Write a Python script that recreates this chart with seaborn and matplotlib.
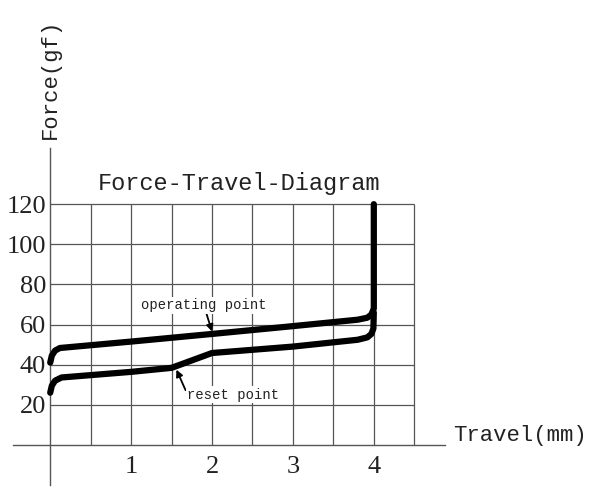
import numpy as np
import pandas as pd
import matplotlib.pyplot as plt
import seaborn as sns

# Curve data (travel in mm, force in gf)
operating_travel = [0.0, 0.02, 0.06, 0.12, 1.0, 2.0, 3.0, 3.8, 3.92, 3.97, 4.0, 4.0]
operating_force = [41.0, 44.5, 47.0, 48.3, 51.5, 55.3, 59.2, 62.4, 63.4, 65.0, 68.0, 120.0]

reset_travel = [0.0, 0.02, 0.06, 0.14, 1.0, 1.5, 2.0, 3.0, 3.8, 3.92, 3.97, 3.995, 4.0]
reset_force = [26.0, 29.5, 32.0, 33.6, 36.4, 38.4, 45.8, 49.0, 52.4, 53.6, 55.3, 58.0, 66.0]

x_ticks = [1, 2, 3, 4]
y_ticks = [20, 40, 60, 80, 100, 120]
grid_x = [0.5, 1.0, 1.5, 2.0, 2.5, 3.0, 3.5, 4.0, 4.5]
grid_y = [20, 40, 60, 80, 100, 120]

df = pd.concat(
    [
        pd.DataFrame({"travel": operating_travel, "force": operating_force, "curve": "operating"}),
        pd.DataFrame({"travel": reset_travel, "force": reset_force, "curve": "reset"}),
    ]
)

sns.set_style("white")
mono = "Liberation Mono"
serif = "Liberation Serif"

fig = plt.figure(figsize=(6, 5), dpi=100)
ax = fig.add_axes([13 / 600, 15 / 500, 432 / 600, 337 / 500])

# grid only inside the 0..4.5 x 0..120 box
ax.vlines(grid_x, 0, 120, color="#555555", lw=0.9, zorder=1)
ax.hlines(grid_y, 0, 4.5, color="#555555", lw=0.9, zorder=1)

sns.lineplot(
    data=df, x="travel", y="force", units="curve", estimator=None, sort=False,
    color="black", lw=4.5, ax=ax, zorder=3, solid_capstyle="round", solid_joinstyle="round",
)

ax.set_xlim(-0.46, 4.88)
ax.set_ylim(-20, 148)

for side in ["top", "right"]:
    ax.spines[side].set_visible(False)
ax.spines["left"].set_position(("data", 0))
ax.spines["bottom"].set_position(("data", 0))
for side in ["left", "bottom"]:
    ax.spines[side].set_color("#555555")
    ax.spines[side].set_linewidth(1.0)

ax.set_xticks(x_ticks)
ax.set_yticks(y_ticks)
ax.tick_params(axis="both", length=0, colors="#222222")
ax.tick_params(axis="x", pad=8)
ax.tick_params(axis="y", pad=3)
for lab in ax.get_xticklabels() + ax.get_yticklabels():
    lab.set_fontfamily(serif)
    lab.set_fontsize(19)
ax.set_xlabel("")
ax.set_ylabel("")

ax.text(2.33, 130.5, "Force-Travel-Diagram", family=mono, fontsize=17,
        ha="center", va="center", color="#222222")
ax.text(0.0, 182.5, "Force(gf)", family=mono, fontsize=16, rotation=90,
        ha="center", va="center", color="#222222", clip_on=False)
ax.text(4.975, 4.5, "Travel(mm)", family=mono, fontsize=16,
        ha="left", va="center", color="#222222", clip_on=False)

ax.annotate(
    "operating point", xy=(2.0, 56.5), xytext=(1.9, 69.5),
    family=mono, fontsize=10, ha="center", va="center", color="#222222",
    bbox=dict(facecolor="white", edgecolor="none", pad=1),
    arrowprops=dict(arrowstyle="-|>", color="black", lw=1.3, shrinkA=0, shrinkB=0, mutation_scale=10),
    zorder=4,
)
ax.annotate(
    "reset point", xy=(1.56, 37.5), xytext=(2.26, 25.0),
    family=mono, fontsize=10, ha="center", va="center", color="#222222",
    bbox=dict(facecolor="white", edgecolor="none", pad=1),
    arrowprops=dict(arrowstyle="-|>", color="black", lw=1.3, shrinkA=0, shrinkB=0,
                    mutation_scale=10, relpos=(0.0, 0.6)),
    zorder=4,
)

fig.savefig("out.png", dpi=100)
plt.close(fig)
